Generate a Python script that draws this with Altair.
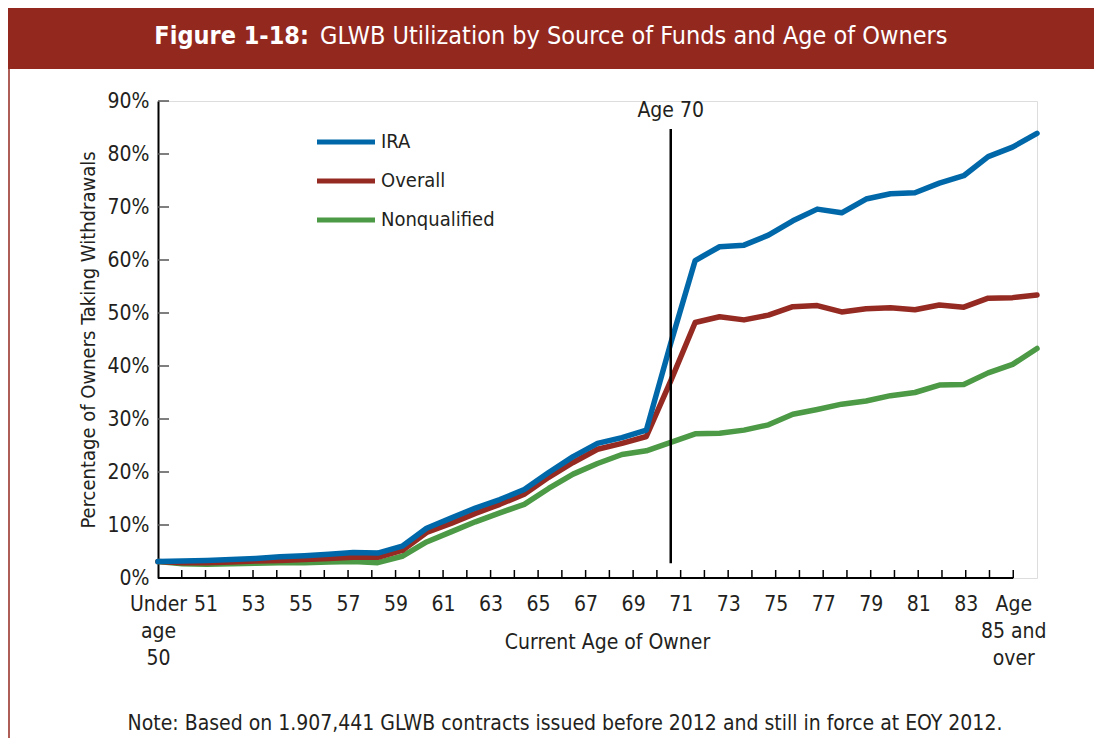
import json
import altair as alt
import pandas as pd

FONT = "Liberation Sans Narrow, DejaVu Sans Condensed, Arial Narrow, sans-serif"
TEXT_COLOR = "#231F20"
BRAND = "#93281F"

# ---------------- data ----------------
ages = ["Under age 50"] + [str(a) for a in range(50, 85)] + ["Age 85 and over"]

ira = [3.1, 3.2, 3.3, 3.5, 3.7, 4.0, 4.2, 4.5, 4.8, 4.7,
       6.0, 9.4, 11.3, 13.2, 14.8, 16.7, 19.9, 22.9, 25.4, 26.5,
       27.9, 44.3, 59.9, 62.5, 62.8, 64.7, 67.4, 69.6, 68.9, 71.5,
       72.5, 72.7, 74.5, 75.9, 79.5, 81.3, 83.9]
overall = [3.1, 2.9, 2.9, 3.0, 3.2, 3.3, 3.5, 3.7, 3.9, 3.9,
           5.2, 8.6, 10.3, 12.2, 13.9, 15.8, 19.0, 21.8, 24.3, 25.4,
           26.7, 37.2, 48.2, 49.3, 48.7, 49.6, 51.2, 51.4, 50.2, 50.8,
           51.0, 50.6, 51.5, 51.1, 52.8, 52.9, 53.4]
nonqualified = [3.1, 2.7, 2.6, 2.7, 2.8, 2.9, 2.9, 3.0, 3.1, 2.9,
                4.1, 6.8, 8.7, 10.6, 12.3, 13.9, 16.9, 19.6, 21.6, 23.3,
                24.0, 25.6, 27.2, 27.3, 27.9, 28.9, 30.9, 31.8, 32.8, 33.4,
                34.4, 35.0, 36.4, 36.5, 38.7, 40.3, 43.3]

series_names = ["IRA", "Overall", "Nonqualified"]
series_colors = ["#0068A9", "#952A22", "#4C9A45"]
y_ticks = [0, 10, 20, 30, 40, 50, 60, 70, 80, 90]

tick_labels = []
for i, a in enumerate(ages):
    if i == 0:
        tick_labels.append("Under|age|50")
    elif i == len(ages) - 1:
        tick_labels.append("Age|85 and|over")
    elif int(a) % 2 == 1:
        tick_labels.append(a)
    else:
        tick_labels.append("")

age70_index = ages.index("70")
age70_span = [2.8, 84.7]

title_bold = "Figure 1-18:"
title_rest = "GLWB Utilization by Source of Funds and Age of Owners"
note = "Note: Based on 1.907,441 GLWB contracts issued before 2012 and still in force at EOY 2012."

# ---------------- tables ----------------
rows = []
for i, a in enumerate(ages):
    for name, vals in zip(series_names, [ira, overall, nonqualified]):
        rows.append({"idx": i, "age": a, "series": name, "value": vals[i]})
df = pd.DataFrame(rows)

W, H = 879, 477
n = len(ages)

color_scale = alt.Scale(domain=series_names, range=series_colors)
x_data = alt.Scale(domain=[0, n - 1], nice=False, zero=False)
y_scale = alt.Scale(domain=[0, 90], nice=False)

y_axis = alt.Axis(values=y_ticks, labelExpr="datum.value + '%'", ticks=False, grid=False,
                  domainColor="black", domainWidth=2, labelFontSize=21, labelPadding=9,
                  labelColor=TEXT_COLOR, labelFont=FONT,
                  title="Percentage of Owners Taking Withdrawals", titleFontSize=20,
                  titleFont=FONT, titleFontWeight="normal", titleColor=TEXT_COLOR,
                  titleX=-70, titleY=H / 2, titleBaseline="middle", titleAlign="center")

# y inward ticks
ytick_df = pd.DataFrame({"v": y_ticks[1:]})
ytick_layer = alt.Chart(ytick_df).mark_rule(color="#555555", strokeWidth=1.5).encode(
    y=alt.Y("v:Q", scale=y_scale, axis=y_axis),
    x=alt.value(0), x2=alt.value(11))

line_layers = []
for name in reversed(series_names):
    line_layers.append(
        alt.Chart(df).transform_filter(alt.datum.series == name)
        .mark_line(strokeWidth=5.5, strokeCap="round", strokeJoin="round")
        .encode(x=alt.X("idx:Q", scale=x_data, axis=None),
                y=alt.Y("value:Q", scale=y_scale, axis=y_axis),
                color=alt.Color("series:N", scale=color_scale, legend=None))
    )

age70_df = pd.DataFrame({"x": [age70_index], "y1": [age70_span[0]], "y2": [age70_span[1]], "label": ["Age 70"]})
age70_rule = alt.Chart(age70_df).mark_rule(color="black", strokeWidth=2.5).encode(
    x=alt.X("x:Q", scale=x_data, axis=None),
    y=alt.Y("y1:Q", scale=y_scale, axis=y_axis), y2="y2:Q")
age70_text = alt.Chart(age70_df).mark_text(fontSize=21, font=FONT, color=TEXT_COLOR,
                                           align="center", baseline="alphabetic").encode(
    x=alt.X("x:Q", scale=x_data, axis=None), y=alt.value(16), text="label:N")

data_group = alt.layer(ytick_layer, *line_layers, age70_rule, age70_text)

# x axis group (own scale)
x_axis_scale = alt.Scale(domain=[0, n], nice=False, zero=False)
label_expr = "split((" + json.dumps(tick_labels) + ")[datum.value], '|')"
x_axis = alt.Axis(values=list(range(n)), labelExpr=label_expr, ticks=False, domain=False,
                  grid=False, labelOverlap=False, labelFlush=False, labelFontSize=21,
                  labelFont=FONT, labelColor=TEXT_COLOR, labelPadding=15, labelLineHeight=27,
                  labelAlign="center",
                  title="Current Age of Owner", titleFont=FONT, titleFontSize=21,
                  titleFontWeight="normal", titleColor=TEXT_COLOR,
                  titleX=449, titleY=64, titleBaseline="middle", titleAlign="center")
axis_line_df = pd.DataFrame({"a": [0], "b": [n - 1]})
axis_line = alt.Chart(axis_line_df).mark_rule(color="black", strokeWidth=2).encode(
    x=alt.X("a:Q", scale=x_axis_scale, axis=x_axis), x2="b:Q", y=alt.value(H))
xtick_df = pd.DataFrame({"idx": list(range(1, n))})
xticks = alt.Chart(xtick_df).mark_rule(color="black", strokeWidth=1.5).encode(
    x=alt.X("idx:Q", scale=x_axis_scale, axis=x_axis), y=alt.value(H - 8), y2=alt.value(H))
axis_group = alt.layer(axis_line, xticks)

# legend group
leg_df = pd.DataFrame({"series": series_names})
leg_y = alt.Y("series:N", scale=alt.Scale(type="point", domain=series_names, range=[41, 119], padding=0), axis=None)
leg_rule = alt.Chart(leg_df).mark_rule(strokeWidth=5).encode(
    x=alt.value(159), x2=alt.value(217), y=leg_y,
    color=alt.Color("series:N", scale=color_scale, legend=None))
leg_text = alt.Chart(leg_df).mark_text(align="left", baseline="middle", fontSize=20, font=FONT,
                                       color=TEXT_COLOR).encode(
    x=alt.value(223), y=leg_y, text="series:N")
legend_group = alt.layer(leg_rule, leg_text)

# decorations
one = pd.DataFrame({"a": [0]})
banner = alt.Chart(one).mark_rect(color=BRAND).encode(
    x=alt.value(-150), x2=alt.value(936), y=alt.value(-93), y2=alt.value(-32))
left_border = alt.Chart(one).mark_rule(color=BRAND, strokeWidth=1.5).encode(
    x=alt.value(-149), y=alt.value(-93), y2=alt.value(637))
title_b = alt.Chart(one).mark_text(text=title_bold, font=FONT, fontSize=25, fontWeight="bold",
                                   color="white", align="right", baseline="alphabetic").encode(
    x=alt.value(151), y=alt.value(-57))
title_r = alt.Chart(one).mark_text(text=title_rest, font=FONT, fontSize=25, color="white",
                                   align="left", baseline="alphabetic").encode(
    x=alt.value(162), y=alt.value(-57))
note_t = alt.Chart(one).mark_text(text=note, font=FONT, fontSize=21, color=TEXT_COLOR,
                                  align="center", baseline="alphabetic").encode(
    x=alt.value(407), y=alt.value(629))

chart = alt.layer(banner, left_border, title_b, title_r, note_t,
                  data_group, axis_group, legend_group).resolve_scale(
    x="independent", y="independent").properties(
    width=W, height=H,
    padding={"left": 150, "top": 93, "right": 57, "bottom": 160},
    autosize=alt.AutoSizeParams(type="none"),
    background="white",
).configure_view(stroke=None).configure(font=FONT)

chart.save("out.html", embed_options={"renderer": "svg", "actions": False})
